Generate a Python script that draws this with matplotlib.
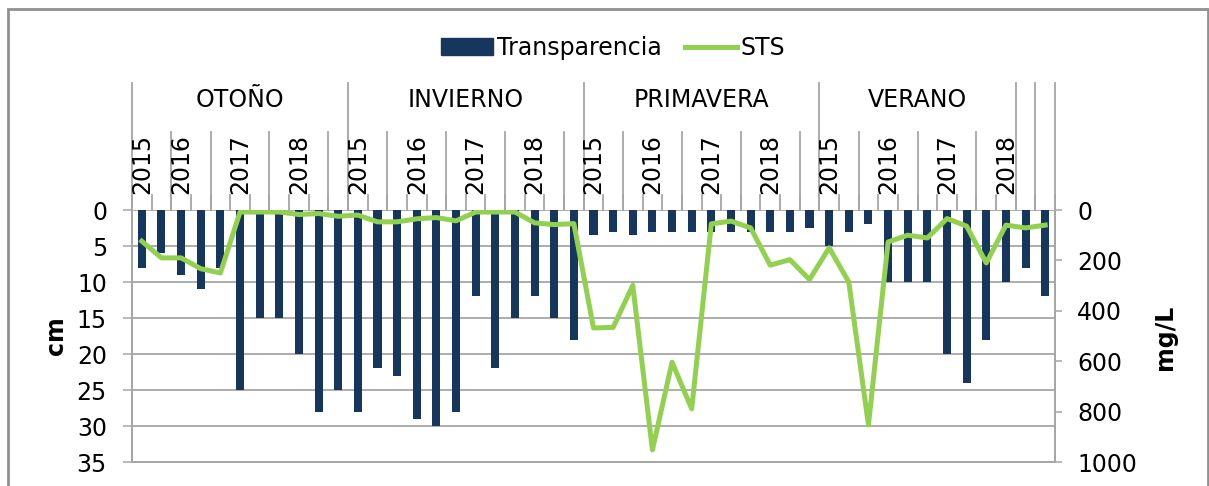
import matplotlib
matplotlib.use("Agg")
import matplotlib.pyplot as plt
import matplotlib.transforms as mtransforms
from matplotlib.patches import Rectangle, Patch
from matplotlib.lines import Line2D
import numpy as np

# season groups (label, number of categories)
seasons = ["OTOÑO", "INVIERNO", "PRIMAVERA", "VERANO", "", ""]
season_counts = [11, 12, 12, 10, 1, 1]

# year groups inside each season: (label, n categories, category that carries the label)
years = [
    [("2015", 2, 0), ("2016", 2, 0), ("2017", 3, 1), ("2018", 3, 1), ("", 1, 0)],
    [("2015", 2, 0), ("2016", 3, 1), ("2017", 3, 1), ("2018", 3, 1), ("", 1, 0)],
    [("2015", 2, 0), ("2016", 3, 1), ("2017", 3, 1), ("2018", 3, 1), ("", 1, 0)],
    [("2015", 2, 0), ("2016", 3, 1), ("2017", 3, 1), ("2018", 2, 1)],
    [("", 1, 0)],
    [("", 1, 0)],
]

# transparencia (cm), one per category
transparencia = [8, 6, 9, 11, 8, 25, 15, 15, 20, 28, 25,
                 28, 22, 23, 29, 30, 28, 12, 22, 15, 12, 15, 18,
                 3.5, 3, 3.5, 3, 3, 3, 3, 3, 3, 3, 3, 2.5,
                 5, 3, 2, 10, 10, 10, 20, 24, 18, 10, 8, 12]

# STS (mg/L)
sts = [124, 190, 190, 233, 250, 8, 8, 8, 18, 14, 25,
       20, 47, 47, 35, 30, 43, 8, 8, 8, 51, 58, 54,
       468, 466, 299, 952, 604, 789, 55, 44, 71, 219, 197, 276,
       150, 286, 853, 127, 100, 111, 34, 64, 210, 60, 71, 60]

BAR = "#17365D"
LINE = "#92D050"
GRID = "#A6A6A6"
FS = 17

W, H = 1209, 486
fig = plt.figure(figsize=(W / 100, H / 100), dpi=100)
ax = fig.add_axes([132 / W, 1 - 462 / H, (1055 - 132) / W, (462 - 210) / H])
ax2 = ax.twinx()

n = len(transparencia)
x = np.arange(n)
ax.bar(x, transparencia, width=0.41, color=BAR, zorder=2)
ax2.plot(x, sts, color=LINE, lw=3.6, solid_joinstyle="round", zorder=3)

ax.set_xlim(-0.5, n - 0.5)
ax.set_ylim(35, 0)
ax.set_yticks(np.arange(0, 36, 5))
ax2.set_ylim(1000, 0)
ax2.set_yticks(np.arange(0, 1001, 200))
ax.set_xticks([])

ax.set_axisbelow(True)
ax.yaxis.grid(True, color=GRID, lw=1.3)
for a in (ax, ax2):
    for s in a.spines.values():
        s.set_color(GRID)
        s.set_linewidth(1.3)
    a.spines["top"].set_visible(False)
ax.tick_params(axis="y", labelsize=FS, length=6.5, width=1.1, color=GRID, pad=11.5)
ax2.tick_params(axis="y", labelsize=FS, length=5, width=1.1, color=GRID, pad=11)

# multi-level category axis drawn above the plot
trans = mtransforms.blended_transform_factory(ax.transData, ax.transAxes)
y_cat = (462 - 195) / 252
y_year = (462 - 132) / 252
y_season = (462 - 83) / 252
y_year_txt = (462 - 164) / 252
y_season_txt = (462 - 100) / 252


def vline(u, top):
    ax.plot([u, u], [1.0, top], color=GRID, lw=1.3, transform=trans, clip_on=False)


for u in range(n + 1):
    vline(u - 0.5, y_cat)

start = 0
for label, cnt, grp in zip(seasons, season_counts, years):
    vline(start - 0.5, y_season)
    ax.text(start - 0.5 + cnt / 2, y_season_txt, label, transform=trans,
            ha="center", va="center", fontsize=FS)
    ys = start
    for ylab, yc, li in grp:
        if ys != start:
            vline(ys - 0.5, y_year)
        ax.text(ys + li, y_year_txt, ylab, transform=trans, rotation=90,
                ha="center", va="center", fontsize=FS)
        ys += yc
    start += cnt
vline(n - 0.5, y_season)

fig.text(56 / W, 1 - 336 / H, "cm", rotation=90, ha="center", va="center",
         fontsize=FS, fontweight="bold")
fig.text(1165 / W, 1 - 337 / H, "mg/L", rotation=90, ha="center", va="center",
         fontsize=FS, fontweight="bold")

handles = [Patch(color=BAR), Line2D([], [], color=LINE, lw=3.6)]
fig.legend(handles, ["Transparencia", "STS"], loc="center",
           bbox_to_anchor=(613 / W, 1 - 48 / H), ncol=2, frameon=False,
           fontsize=FS, handlelength=2.2, handletextpad=0.15, columnspacing=1.0)

fig.add_artist(Rectangle((7.5 / W, -0.05), (1208 - 7.5) / W, 1.05 - 8.7 / H,
                         transform=fig.transFigure, fill=False, ec="#909090", lw=2))

fig.savefig("out.png", dpi=100)
